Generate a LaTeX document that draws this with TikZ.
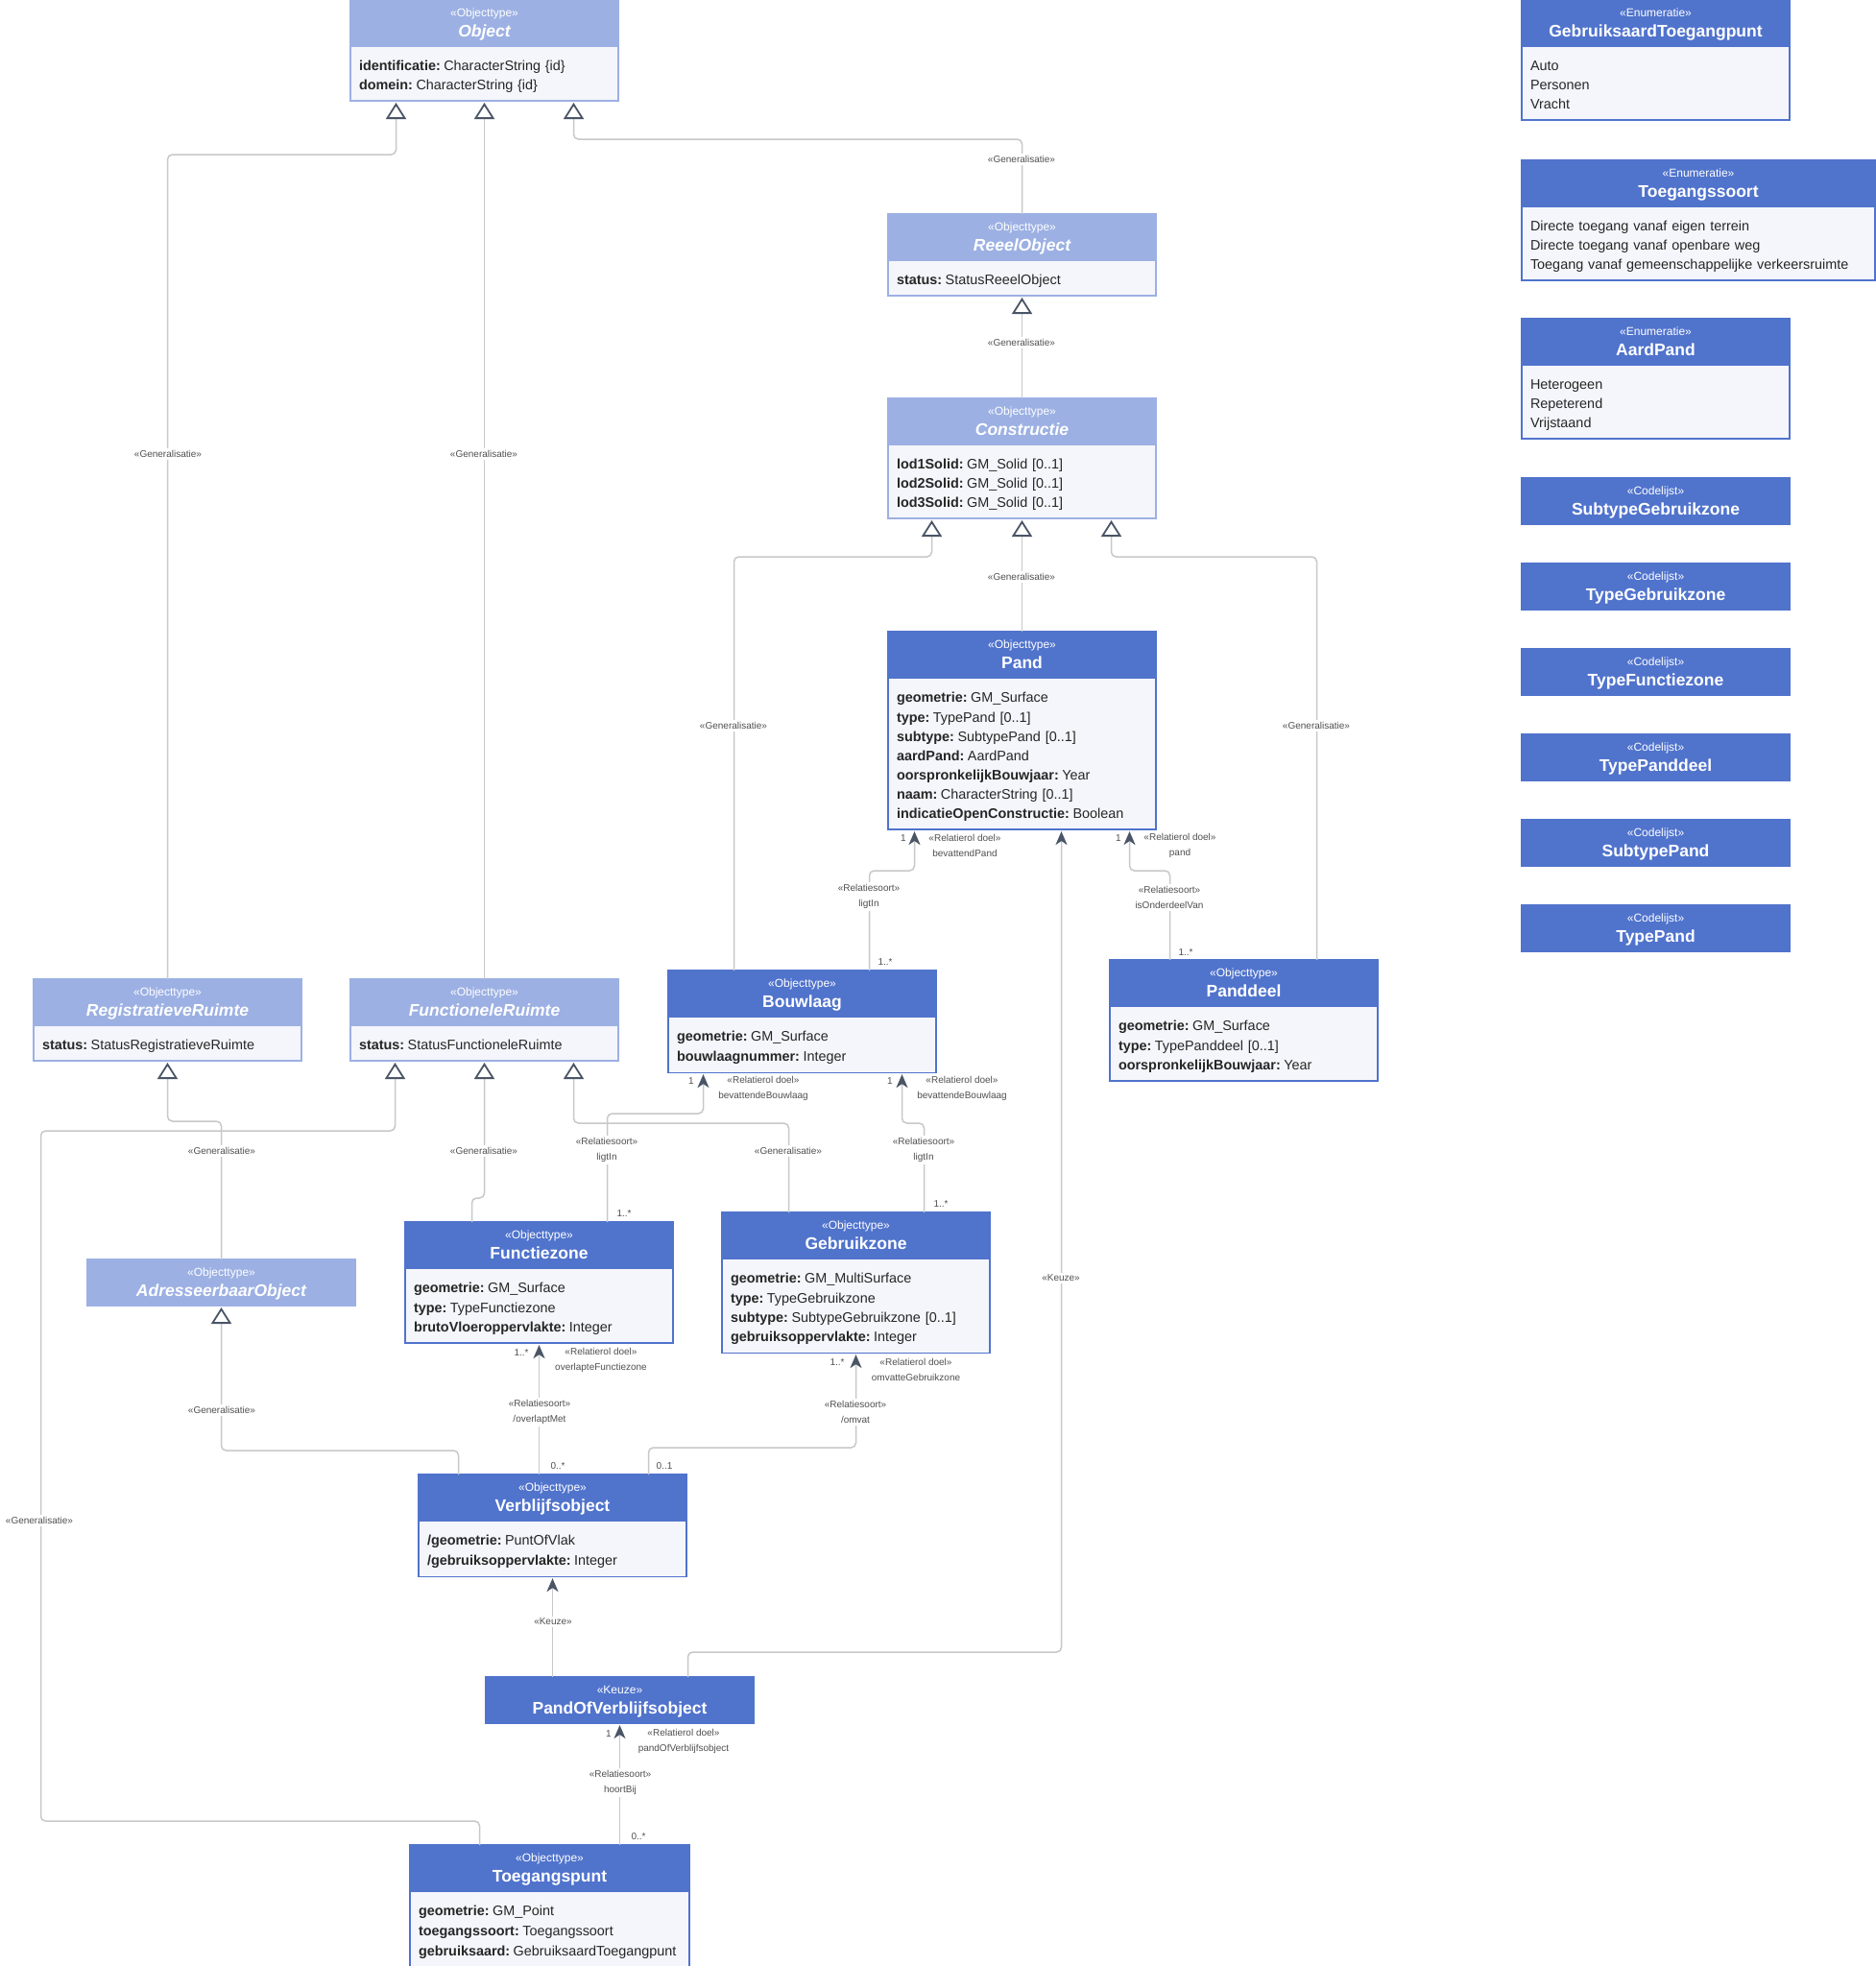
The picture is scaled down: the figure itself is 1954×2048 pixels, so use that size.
\documentclass[tikz,border=0pt]{standalone}
\usepackage{fontspec}
\setmainfont{Liberation Sans}
\usetikzlibrary{arrows.meta,positioning}
\setlength{\parindent}{0pt}

\definecolor{clsblue}{HTML}{5073CC}
\definecolor{absblue}{HTML}{9CB0E3}
\definecolor{bodyfill}{HTML}{F5F6FB}
\definecolor{linegray}{HTML}{C8C8C8}
\definecolor{tipgray}{HTML}{4A5566}
\definecolor{lblgray}{HTML}{505050}

\newcommand{\umlhead}[2]{\rule{0pt}{13pt}«#1»\\{\fontsize{17.5}{21}\selectfont\bfseries #2\rule[-5pt]{0pt}{5pt}}}
\newcommand{\umlstrut}{\rule[-3pt]{0pt}{20pt}}
\newcommand{\umlattr}[2]{\umlstrut\textbf{#1:}\hspace{3.5pt}#2}

\begin{document}
\begin{tikzpicture}[x=1pt,y=-1pt,
  hdr/.style={draw=clsblue,fill=clsblue,text=white,line width=1.2pt,minimum width=279pt,minimum height=48pt,inner sep=0pt,outer sep=0pt,align=center,anchor=north west,font=\fontsize{12}{21}\selectfont},
  abshdr/.style={hdr,draw=absblue,fill=absblue},
  attrs/.style={draw=clsblue,fill=bodyfill,text=black!85,line width=1.2pt,text width=261pt,inner xsep=9pt,inner ysep=8.5pt,outer sep=0pt,align=left,font=\fontsize{14.4}{20}\selectfont},
  absattrs/.style={attrs,draw=absblue},
  conn/.style={draw=linegray,line width=1.5pt,rounded corners=5pt,shorten >=2pt},
  gen/.style={conn,-{Triangle[fill=white,color=tipgray,length=17pt,width=21pt,line width=1.8pt]}},
  assoc/.style={conn,-{Stealth[color=tipgray,length=14pt,width=12pt,inset=4pt]}},
  lbl/.style={fill=white,text=lblgray,inner sep=2pt,align=center,font=\fontsize{10}{16}\selectfont},
  role/.style={text=lblgray,inner sep=0pt,align=center,font=\fontsize{10}{16}\selectfont}]
  \fill[white] (0,0) rectangle (1954,2048);
  \useasboundingbox (0,0) rectangle (1954,2048);

  % abstracte objecttypen
  \node[abshdr] (object) at (365,0) {\umlhead{Objecttype}{\itshape Object}};
  \node[absattrs,below=0pt of object] (object attr) {\umlattr{identificatie}{CharacterString \{id\}}\\\umlattr{domein}{CharacterString \{id\}}};
  \node[abshdr] (reeel) at (925,223) {\umlhead{Objecttype}{\itshape ReeelObject}};
  \node[absattrs,below=0pt of reeel] (reeel attr) {\umlattr{status}{StatusReeelObject}};
  \node[abshdr] (constr) at (925,415) {\umlhead{Objecttype}{\itshape Constructie}};
  \node[absattrs,below=0pt of constr] (constr attr) {\umlattr{lod1Solid}{GM\_Solid [0..1]}\\\umlattr{lod2Solid}{GM\_Solid [0..1]}\\\umlattr{lod3Solid}{GM\_Solid [0..1]}};
  \node[abshdr] (regr) at (35,1020) {\umlhead{Objecttype}{\itshape RegistratieveRuimte}};
  \node[absattrs,below=0pt of regr] (regr attr) {\umlattr{status}{StatusRegistratieveRuimte}};
  \node[abshdr] (funcr) at (365,1020) {\umlhead{Objecttype}{\itshape FunctioneleRuimte}};
  \node[absattrs,below=0pt of funcr] (funcr attr) {\umlattr{status}{StatusFunctioneleRuimte}};
  \node[abshdr] (adres) at (91,1312) {\umlhead{Objecttype}{\itshape AdresseerbaarObject}};

  % objecttypen
  \node[hdr] (pand) at (925,658) {\umlhead{Objecttype}{Pand}};
  \node[attrs,below=0pt of pand] (pand attr) {\umlattr{geometrie}{GM\_Surface}\\\umlattr{type}{TypePand [0..1]}\\\umlattr{subtype}{SubtypePand [0..1]}\\\umlattr{aardPand}{AardPand}\\\umlattr{oorspronkelijkBouwjaar}{Year}\\\umlattr{naam}{CharacterString [0..1]}\\\umlattr{indicatieOpenConstructie}{Boolean}};
  \node[hdr] (bouwlaag) at (696,1011) {\umlhead{Objecttype}{Bouwlaag}};
  \node[attrs,below=0pt of bouwlaag] (bouwlaag attr) {\umlattr{geometrie}{GM\_Surface}\\\umlattr{bouwlaagnummer}{Integer}};
  \node[hdr] (panddeel) at (1156,1000) {\umlhead{Objecttype}{Panddeel}};
  \node[attrs,below=0pt of panddeel] (panddeel attr) {\umlattr{geometrie}{GM\_Surface}\\\umlattr{type}{TypePanddeel [0..1]}\\\umlattr{oorspronkelijkBouwjaar}{Year}};
  \node[hdr] (fzone) at (422,1273) {\umlhead{Objecttype}{Functiezone}};
  \node[attrs,below=0pt of fzone] (fzone attr) {\umlattr{geometrie}{GM\_Surface}\\\umlattr{type}{TypeFunctiezone}\\\umlattr{brutoVloeroppervlakte}{Integer}};
  \node[hdr] (gzone) at (752,1263) {\umlhead{Objecttype}{Gebruikzone}};
  \node[attrs,below=0pt of gzone] (gzone attr) {\umlattr{geometrie}{GM\_MultiSurface}\\\umlattr{type}{TypeGebruikzone}\\\umlattr{subtype}{SubtypeGebruikzone [0..1]}\\\umlattr{gebruiksoppervlakte}{Integer}};
  \node[hdr] (vbo) at (436,1536) {\umlhead{Objecttype}{Verblijfsobject}};
  \node[attrs,below=0pt of vbo] (vbo attr) {\umlattr{/geometrie}{PuntOfVlak}\\\umlattr{/gebruiksoppervlakte}{Integer}};
  \node[hdr] (povbo) at (506,1747) {\umlhead{Keuze}{PandOfVerblijfsobject}};
  \node[hdr,minimum width=291pt] (tpunt) at (427,1922) {\umlhead{Objecttype}{Toegangspunt}};
  \node[attrs,text width=273pt,below=0pt of tpunt] (tpunt attr) {\umlattr{geometrie}{GM\_Point}\\\umlattr{toegangssoort}{Toegangssoort}\\\umlattr{gebruiksaard}{GebruiksaardToegangpunt}};

  % enumeraties en codelijsten
  \node[hdr] (gtp) at (1585,0) {\umlhead{Enumeratie}{GebruiksaardToegangpunt}};
  \node[attrs,below=0pt of gtp] (gtp attr) {\umlstrut Auto\\\umlstrut Personen\\\umlstrut Vracht};
  \node[hdr,minimum width=368pt] (tsoort) at (1585,167) {\umlhead{Enumeratie}{Toegangssoort}};
  \node[attrs,text width=350pt,below=0pt of tsoort] (tsoort attr) {\umlstrut Directe toegang vanaf eigen terrein\\\umlstrut Directe toegang vanaf openbare weg\\\umlstrut Toegang vanaf gemeenschappelijke verkeersruimte};
  \node[hdr] (aardpand) at (1585,332) {\umlhead{Enumeratie}{AardPand}};
  \node[attrs,below=0pt of aardpand] (aardpand attr) {\umlstrut Heterogeen\\\umlstrut Repeterend\\\umlstrut Vrijstaand};
  \node[hdr] (subgz) at (1585,498) {\umlhead{Codelijst}{SubtypeGebruikzone}};
  \node[hdr] (typegz) at (1585,587) {\umlhead{Codelijst}{TypeGebruikzone}};
  \node[hdr] (typefz) at (1585,676) {\umlhead{Codelijst}{TypeFunctiezone}};
  \node[hdr] (typepd) at (1585,765) {\umlhead{Codelijst}{TypePanddeel}};
  \node[hdr] (subpand) at (1585,854) {\umlhead{Codelijst}{SubtypePand}};
  \node[hdr] (typepand) at (1585,943) {\umlhead{Codelijst}{TypePand}};

  % generalisaties
  \draw[gen] (regr.north) -- ++(0,-859) -| ([xshift=-92pt]object attr.south);
  \draw[gen] (funcr.north) -- (object attr.south);
  \draw[gen] (reeel.north) -- ++(0,-78) -| ([xshift=93pt]object attr.south);
  \draw[gen] (constr.north) -- (reeel attr.south);
  \draw[gen] ([xshift=-71pt]bouwlaag.north) -- ++(0,-431) -| ([xshift=-94pt]constr attr.south);
  \draw[gen] (pand.north) -- (constr attr.south);
  \draw[gen] ([xshift=76pt]panddeel.north) -- ++(0,-420) -| ([xshift=93pt]constr attr.south);
  \draw[gen] (adres.north) -- ++(0,-144) -| (regr attr.south);
  \draw[gen] ([xshift=-70pt]fzone.north) -- ++(0,-25) -| (funcr attr.south);
  \draw[gen] ([xshift=-70pt]gzone.north) -- ++(0,-93) -| ([xshift=93pt]funcr attr.south);
  \draw[gen] ([xshift=-73pt]tpunt.north) -- ++(0,-25) -| ++(-457,-719) -| ([xshift=-93pt]funcr attr.south);
  \draw[gen] ([xshift=-98pt]vbo.north) -- ++(0,-25) -| (adres.south);

  % relaties en keuzes
  \draw[assoc] ([xshift=70pt]bouwlaag.north) -- ++(0,-104) -| ([xshift=-112pt]pand attr.south);
  \draw[assoc] ([xshift=71pt]povbo.north) -- ++(0,-26) -| ([xshift=41pt]pand attr.south);
  \draw[assoc] ([xshift=-77pt]panddeel.north) -- ++(0,-93) -| ([xshift=112pt]pand attr.south);
  \draw[assoc] ([xshift=71pt]fzone.north) -- ++(0,-113) -| ([xshift=-103pt]bouwlaag attr.south);
  \draw[assoc] ([xshift=71pt]gzone.north) -- ++(0,-93) -| ([xshift=104pt]bouwlaag attr.south);
  \draw[assoc] (fzone attr.south |- vbo.north) -- (fzone attr.south);
  \draw[assoc] ([xshift=100pt]vbo.north) -- ++(0,-28) -| (gzone attr.south);
  \draw[assoc] (vbo attr.south |- povbo.north) -- (vbo attr.south);
  \draw[assoc] (povbo.south |- tpunt.north) -- (povbo.south);

  % labels
  \node[lbl] (g1) at (175,473) {«Generalisatie»};
  \node[lbl] (g2) at (504,473) {«Generalisatie»};
  \node[lbl] (g3) at (1064,166) {«Generalisatie»};
  \node[lbl] (g4) at (1064,357) {«Generalisatie»};
  \node[lbl] (g5) at (764,756) {«Generalisatie»};
  \node[lbl] (g6) at (1064,601) {«Generalisatie»};
  \node[lbl] (g7) at (1371,756) {«Generalisatie»};
  \node[lbl] (g8) at (231,1199) {«Generalisatie»};
  \node[lbl] (g9) at (504,1199) {«Generalisatie»};
  \node[lbl] (g10) at (821,1199) {«Generalisatie»};
  \node[lbl] (g11) at (41,1584) {«Generalisatie»};
  \node[lbl] (g12) at (231,1469) {«Generalisatie»};
  \node[lbl] (k1) at (1105,1331) {«Keuze»};
  \node[lbl] (k2) at (576,1689) {«Keuze»};

  \node[lbl] (r1) at (905,934) {«Relatiesoort»\\ligtIn};
  \node[lbl] (r2) at (1218,935) {«Relatiesoort»\\isOnderdeelVan};
  \node[lbl] (r3) at (632,1198) {«Relatiesoort»\\ligtIn};
  \node[lbl] (r4) at (962,1198) {«Relatiesoort»\\ligtIn};
  \node[lbl] (r5) at (562,1471) {«Relatiesoort»\\/overlaptMet};
  \node[lbl] (r6) at (891,1471) {«Relatiesoort»\\/omvat};
  \node[lbl] (r7) at (646,1857) {«Relatiesoort»\\hoortBij};

  \node[role] (d1) at (1005,881) {«Relatierol doel»\\bevattendPand};
  \node[role] (d2) at (1229,881) {«Relatierol doel»\\pand};
  \node[role] (d3) at (795,1134) {«Relatierol doel»\\bevattendeBouwlaag};
  \node[role] (d4) at (1002,1134) {«Relatierol doel»\\bevattendeBouwlaag};
  \node[role] (d5) at (626,1417) {«Relatierol doel»\\overlapteFunctiezone};
  \node[role] (d6) at (954,1427) {«Relatierol doel»\\omvatteGebruikzone};
  \node[role] (d7) at (712,1814) {«Relatierol doel»\\pandOfVerblijfsobject};

  \node[role] (m1) at (941,873) {1};
  \node[role] (m2) at (922,1002) {1..*};
  \node[role] (m3) at (1165,873) {1};
  \node[role] (m4) at (1235,992) {1..*};
  \node[role] (m5) at (720,1126) {1};
  \node[role] (m6) at (650,1264) {1..*};
  \node[role] (m7) at (927,1126) {1};
  \node[role] (m8) at (980,1254) {1..*};
  \node[role] (m9) at (543,1409) {1..*};
  \node[role] (m10) at (581,1527) {0..*};
  \node[role] (m11) at (872,1419) {1..*};
  \node[role] (m12) at (692,1527) {0..1};
  \node[role] (m13) at (634,1806) {1};
  \node[role] (m14) at (665,1913) {0..*};
\end{tikzpicture}
\end{document}
